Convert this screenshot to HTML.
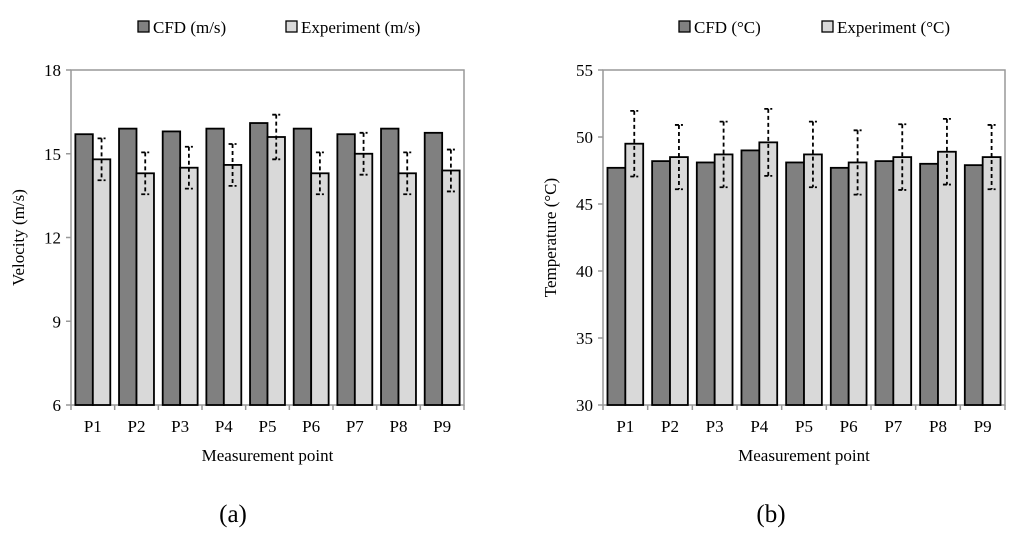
<!DOCTYPE html>
<html><head><meta charset="utf-8"><style>
body{margin:0;background:#fff;}
svg{font-family:"Liberation Serif",serif;}
</style></head><body>
<svg id="s" width="1024" height="537" xmlns="http://www.w3.org/2000/svg"></svg>
<script>
const categories=["P1","P2","P3","P4","P5","P6","P7","P8","P9"];
const velCFD=[15.7,15.9,15.8,15.9,16.1,15.9,15.7,15.9,15.75];
const velExp=[14.8,14.3,14.5,14.6,15.6,14.3,15.0,14.3,14.4];
const velErr=[0.75,0.75,0.75,0.75,0.8,0.75,0.75,0.75,0.75];
const velTicks=[6,9,12,15,18];
const tempCFD=[47.7,48.2,48.1,49.0,48.1,47.7,48.2,48.0,47.9];
const tempExp=[49.5,48.5,48.7,49.6,48.7,48.1,48.5,48.9,48.5];
const tempErr=[2.45,2.4,2.45,2.5,2.45,2.4,2.45,2.45,2.4];
const tempTicks=[30,35,40,45,50,55];
const NS="http://www.w3.org/2000/svg";
const svg=document.getElementById('s');
function mk(tag,attrs,parent,text){const e=document.createElementNS(NS,tag);for(const k in attrs)e.setAttribute(k,attrs[k]);if(text!==undefined)e.textContent=text;(parent||svg).appendChild(e);return e;}
function chart(o){
  const g=mk('g',{});
  
  
  const y=v=>o.y1-(v-o.ticks[0])/(o.ticks[o.ticks.length-1]-o.ticks[0])*(o.y1-o.y0);
  const gw=(o.x1-o.x0)/categories.length;
  const frame=mk('rect',{x:o.x0,y:o.y0,width:o.x1-o.x0,height:o.y1-o.y0,fill:'none',stroke:'#999','stroke-width':1.5},g);
  
  o.ticks.forEach(t=>{
    mk('line',{x1:o.x0-5,x2:o.x0,y1:y(t),y2:y(t),stroke:'#999','stroke-width':1.5},g);
    const tl=mk('text',{x:o.x0-10,y:y(t)+6,'text-anchor':'end','font-size':17},g,t);
    
  });
  categories.forEach((c,i)=>{
    const gx=o.x0+i*gw;
    mk('line',{x1:gx,x2:gx,y1:o.y1,y2:o.y1+5,stroke:'#999','stroke-width':1.5},g);
    const bw=gw*0.4, bx=gx+gw*0.1;
    const b1=mk('rect',{x:bx,y:y(o.a[i]),width:bw,height:o.y1-y(o.a[i]),fill:'#808080',stroke:'#000','stroke-width':1.8},g);
    
    const b2=mk('rect',{x:bx+bw,y:y(o.b[i]),width:bw,height:o.y1-y(o.b[i]),fill:'#d9d9d9',stroke:'#000','stroke-width':1.8},g);
    
    const cx=bx+bw*1.5, hi=y(o.b[i]+o.e[i]), lo=y(o.b[i]-o.e[i]);
    const eb=mk('g',{stroke:'#000','stroke-width':1.8},g);
    
    mk('line',{x1:cx,x2:cx,y1:hi,y2:lo,'stroke-dasharray':'4,3'},eb);
    mk('line',{x1:cx-4,x2:cx+4,y1:hi,y2:hi,'stroke-dasharray':'4,2'},eb);
    mk('line',{x1:cx-4,x2:cx+4,y1:lo,y2:lo,'stroke-dasharray':'4,2'},eb);
    const xl=mk('text',{x:gx+gw/2,y:o.y1+27,'text-anchor':'middle','font-size':17},g,c);
    
  });
  mk('line',{x1:o.x1,x2:o.x1,y1:o.y1,y2:o.y1+5,stroke:'#999','stroke-width':1.5},g);
  const xt=mk('text',{x:(o.x0+o.x1)/2,y:o.y1+56,'text-anchor':'middle','font-size':17},g,'Measurement point');
  
  const cy=(o.y0+o.y1)/2;
  const yt=mk('text',{x:o.ytx,y:cy,'text-anchor':'middle','font-size':17,transform:`rotate(-90 ${o.ytx} ${cy})`},g,o.ytitle);
  
  o.legend.forEach((L,k)=>{
    const lg=mk('g',{},g);
    
    mk('rect',{x:L.x,y:21,width:11,height:11,fill:k?'#d9d9d9':'#808080',stroke:'#000','stroke-width':1.3},lg);
    mk('text',{x:L.x+15,y:33,'font-size':17},lg,L.t);
  });
  const cap=mk('text',{x:o.capx,y:522,'text-anchor':'middle','font-size':25},g,o.cap);
  
}
chart({name:'velocity-chart',x0:71,x1:464,y0:70,y1:405,ticks:velTicks,a:velCFD,b:velExp,e:velErr,ytitle:'Velocity (m/s)',ytx:24,
  legend:[{x:138,t:'CFD (m/s)'},{x:286,t:'Experiment (m/s)'}],cap:'(a)',capx:233});
chart({name:'temperature-chart',x0:603,x1:1005,y0:70,y1:405,ticks:tempTicks,a:tempCFD,b:tempExp,e:tempErr,ytitle:'Temperature (°C)',ytx:556,
  legend:[{x:679,t:'CFD (°C)'},{x:822,t:'Experiment (°C)'}],cap:'(b)',capx:771});
</script>
</body></html>
